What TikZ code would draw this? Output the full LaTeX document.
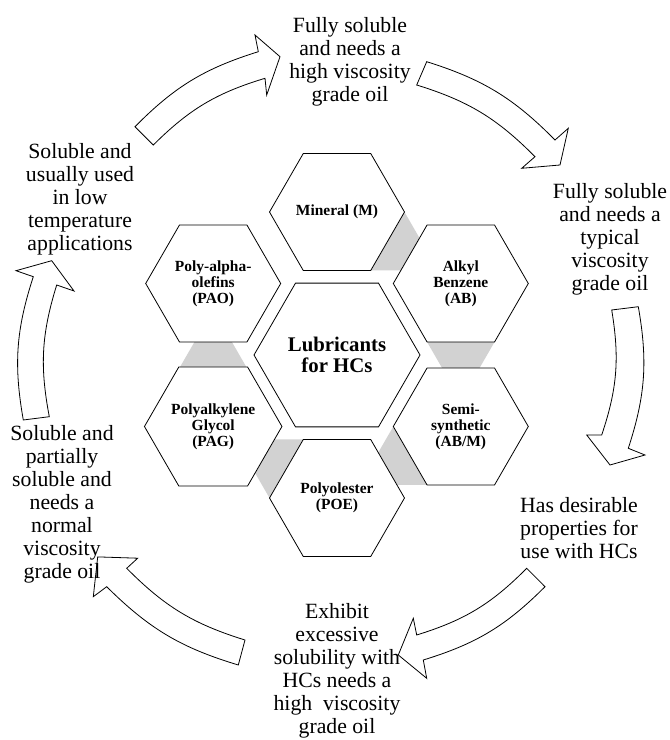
\documentclass[tikz,border=0pt]{standalone}
\usepackage{fontspec}
\setmainfont{Liberation Serif}
\usetikzlibrary{shapes.geometric}
\tikzset{
  hexa/.style={regular polygon, regular polygon sides=6, draw, fill=white, line width=0.6pt,
    inner sep=0pt, minimum size=101.25pt, align=center, font=\fontsize{11.6}{12}\selectfont\bfseries},
  hexcore/.style={hexa, minimum size=124.5pt, font=\fontsize{15.6}{16}\selectfont\bfseries},
  note/.style={align=center, inner sep=0pt, font=\fontsize{16.3}{17.25}\selectfont},
  bigarrow/.style={draw, fill=white, line width=0.6pt},
  link/.style={fill=gray!35},
}
\begin{document}
\begin{tikzpicture}[x=0.75pt,y=0.75pt]
\useasboundingbox (0,0) rectangle (670,740);
\coordinate (O) at (337,385);
% grey links between neighbouring hexagons
\foreach \k in {0,...,4}
  \fill[link, rotate around={-60*\k:(O)}] (404.5,528) -- (419.5,502) -- (400.8,469.5) -- (370.75,469.5) -- cycle;
% hexagons
\node[hexcore] (core) at (O) {Lubricants\\for HCs};
\node[hexa] (mineral) at (337,528) {Mineral (M)};
\node[hexa] (alkyl) at (460.8,456.5) {Alkyl\\Benzene\\(AB)};
\node[hexa] (semi) at (460.8,313.5) {Semi-\\synthetic\\(AB/M)};
\node[hexa] (poe) at (337,242) {Polyolester\\(POE)};
\node[hexa] (pag) at (213.2,313.5) {Polyalkylene\\Glycol\\(PAG)};
\node[hexa] (pao) at (213.2,456.5) {Poly-alpha-\\olefins\\(PAO)};
% block arrows round the ring
\draw[bigarrow] (135,613.3) to[bend left=14] (258.3,688.3) -- (255,705) -- (280,683.3) -- (266.7,645) -- (265,661.7) to[bend right=14] (153.3,595) -- cycle;
\draw[bigarrow] (426.7,678.3) to[bend left=14] (555,600) -- (568.3,611.7) -- (560,575) -- (521.7,571.7) -- (535,583.3) to[bend right=14] (416.7,655) -- cycle;
\draw[bigarrow] (638.3,433.3) to[bend left=14] (628.3,291.7) -- (645,285) -- (610,275) -- (586.7,305) -- (601.7,305) to[bend right=14] (611.7,430) -- cycle;
\draw[bigarrow] (545,153.3) to[bend left=14] (423.3,80) -- (426.7,61.7) -- (398.3,85) -- (413.3,121.7) -- (416.7,105) to[bend right=14] (526.7,171.7) -- cycle;
\draw[bigarrow] (238.3,75) to[bend left=14] (106.7,153.3) -- (93.3,143.3) -- (97.7,183.1) -- (137.7,181.8) -- (126.7,171.7) to[bend right=14] (245,100) -- cycle;
\draw[bigarrow] (23.3,320) to[bend left=14] (33.3,463.3) -- (16,469.3) -- (51.7,479.3) -- (74,449) -- (56.7,455) to[bend right=14] (49.3,323.3) -- cycle;
% texts
\node[note] (tTop) at (350,678.5) {Fully soluble\\and needs a\\high viscosity\\grade oil};
\node[note] (tRightUp) at (610,501) {Fully soluble\\and needs a\\typical\\viscosity\\grade oil};
\node[note] (tRightLow) at (579,212) {Has desirable\\properties for\\use with HCs};
\node[note] (tBottom) at (337,69.5) {Exhibit\\excessive\\solubility with\\HCs needs a\\high\ \ viscosity\\grade oil};
\node[note] (tLeftLow) at (62,236) {Soluble and\\partially\\soluble and\\needs a\\normal\\viscosity\\grade oil};
\node[note] (tLeftUp) at (80,541) {Soluble and\\usually used\\in low\\temperature\\applications};
\end{tikzpicture}
\end{document}
